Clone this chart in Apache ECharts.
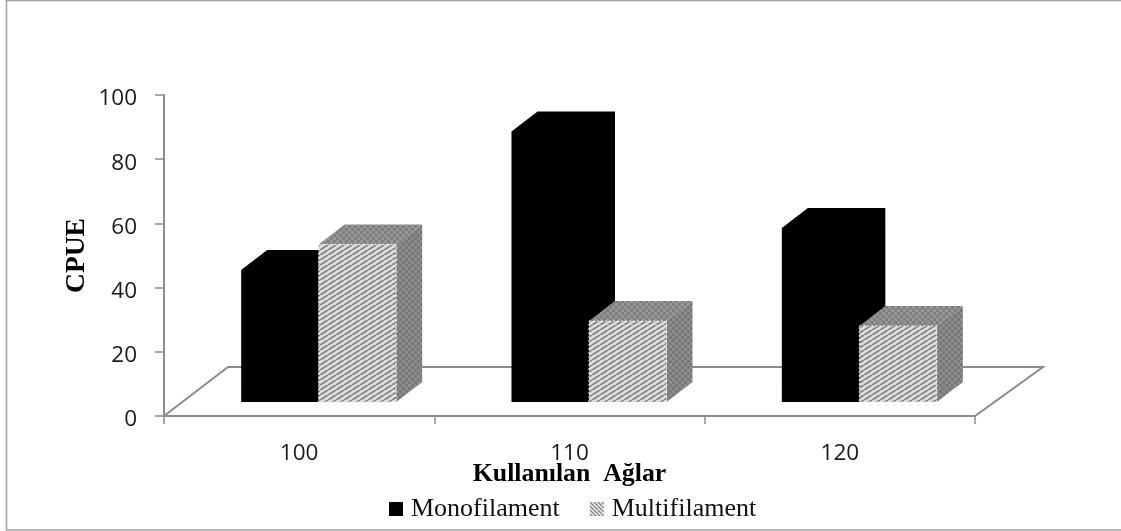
<!DOCTYPE html>
<html>
<head>
<meta charset="utf-8">
<style>
html, body { margin: 0; padding: 0; background: #fff; }
#chart { width: 1121px; height: 531px; }
</style>
<script src="https://cdn.jsdelivr.net/npm/echarts@6/dist/echarts.min.js"></script>
</head>
<body>
<div id="chart"></div>
<script>
const categories = ['100', '110', '120']
const monofilament = [41.1, 84.3, 54.2]
const multifilament = [49.1, 25.2, 23.7]
const yTicks = [0, 20, 40, 60, 80, 100]

// depth of the fake 3d, in px
const DX = 26
const DY = 20
const BASE_LIFT = 14
const SHIFT = 19.5
const BAR_W = 77.5

function hatch (fg, bg, w, h, lw, flip) {
  const c = document.createElement('canvas')
  c.width = w
  c.height = h
  const g = c.getContext('2d')
  g.fillStyle = bg
  g.fillRect(0, 0, w, h)
  g.strokeStyle = fg
  g.lineWidth = lw
  for (let i = -1; i <= 1; i++) {
    g.beginPath()
    g.moveTo(i * w, flip ? 0 : h)
    g.lineTo((i + 1) * w, flip ? h : 0)
    g.stroke()
  }
  return { image: c, repeat: 'repeat' }
}

function dither (a, b) {
  const c = document.createElement('canvas')
  c.width = 6
  c.height = 6
  const g = c.getContext('2d')
  g.fillStyle = a
  g.fillRect(0, 0, 6, 6)
  g.fillStyle = b
  g.fillRect(0, 0, 3, 3)
  g.fillRect(3, 3, 3, 3)
  return { image: c, repeat: 'repeat' }
}

const frontFill = hatch('#868686', '#dedede', 8, 5, 1.9, false)
const legendFill = hatch('#7a7a7a', '#f6f6f6', 4, 4, 1.3, true)
const topFill = dither('#7f7f7f', '#969696')
const sideFill = dither('#787878', '#8c8c8c')

function corners (api, slot) {
  const cat = api.value(0)
  const p = api.coord([cat, api.value(1)])
  const zero = api.coord([cat, 0])
  const x0 = p[0] + SHIFT + slot * BAR_W
  return { x0, x1: x0 + BAR_W, yb: zero[1] - BASE_LIFT, yt: p[1] - BASE_LIFT }
}

// black bars read as one flat shape, so draw the outline only
function solidBox (params, api) {
  const { x0, x1, yb, yt } = corners(api, -1)
  return {
    type: 'polygon',
    shape: {
      points: [[x0, yt], [x0 + DX, yt - DY], [x1 + DX, yt - DY], [x1 + DX, yb - DY], [x1, yb], [x0, yb]]
    },
    style: { fill: '#000' }
  }
}

function hatchedBox (params, api) {
  const { x0, x1, yb, yt } = corners(api, 0)
  return {
    type: 'group',
    children: [
      {
        type: 'polygon',
        shape: { points: [[x0, yt], [x0 + DX, yt - DY], [x1 + DX, yt - DY], [x1, yt]] },
        style: { fill: topFill }
      },
      {
        type: 'polygon',
        shape: { points: [[x1, yt], [x1 + DX, yt - DY], [x1 + DX, yb - DY], [x1, yb]] },
        style: { fill: sideFill }
      },
      {
        type: 'polygon',
        shape: { points: [[x0, yt], [x1, yt], [x1, yb], [x0, yb]] },
        style: { fill: frontFill, stroke: '#f0f0f0', lineWidth: 1, lineDash: [2, 2] }
      }
    ]
  }
}

function floor (params, api) {
  const a = api.coord([0, 0])
  const b = api.coord([2, 0])
  const half = api.size([1, 0])[0] / 2
  const l = a[0] - half
  const r = b[0] + half
  return {
    type: 'polygon',
    shape: { points: [[l, a[1]], [l + 64, a[1] - 49], [r + 68, a[1] - 49], [r, a[1]]] },
    style: { fill: '#fff', stroke: '#8c8c8c', lineWidth: 2 },
    silent: true
  }
}

const axisLine = { show: true, lineStyle: { color: '#8c8c8c', width: 2 } }
const axisTick = { show: true, length: 9, lineStyle: { color: '#8c8c8c', width: 1.5 } }
const numFont = { fontFamily: 'Open Sans', fontSize: 22.5, color: '#1a1a1a' }
const nameFont = { fontFamily: 'Liberation Serif', fontWeight: 'bold', color: '#000' }

const myChart = echarts.init(document.getElementById('chart'))
myChart.setOption({
  backgroundColor: '#fff',
  animation: false,
  graphic: [{
    type: 'rect',
    silent: true,
    z: -1,
    // right edge of the frame falls outside the picture
    shape: { x: 6.5, y: 0.5, width: 1125, height: 529.5 },
    style: { fill: 'none', stroke: '#a0a0a0', lineWidth: 1.5 }
  }],
  grid: { left: 164, right: 146, top: 95, bottom: 115 },
  legend: {
    data: [
      { name: 'Monofilament' },
      { name: 'Multifilament', itemStyle: { color: legendFill } }
    ],
    left: 384,
    top: 491,
    itemWidth: 14,
    itemHeight: 14,
    itemGap: 30,
    icon: 'rect',
    textStyle: { fontFamily: 'Liberation Serif', fontSize: 26, color: '#111', padding: [0, 0, 0, 3] }
  },
  xAxis: {
    type: 'category',
    data: categories,
    axisLine,
    axisTick: { ...axisTick, length: 8 },
    axisLabel: { ...numFont, margin: 26 },
    name: 'Kullanılan  Ağlar',
    nameLocation: 'middle',
    nameGap: 45,
    nameMoveOverlap: false,
    nameTextStyle: { ...nameFont, fontSize: 25.8 }
  },
  yAxis: {
    type: 'value',
    min: yTicks[0],
    max: yTicks[yTicks.length - 1],
    interval: yTicks[1] - yTicks[0],
    splitLine: { show: false },
    axisLine,
    axisTick,
    axisLabel: {
      margin: 27,
      formatter: '{n|{value}}',
      rich: { n: { ...numFont, padding: [8, 0, 0, 0] } }
    },
    name: 'CPUE',
    nameLocation: 'middle',
    nameGap: 73,
    nameMoveOverlap: false,
    nameTextStyle: { ...nameFont, fontSize: 27.5 }
  },
  series: [
    {
      type: 'custom',
      name: 'floor',
      silent: true,
      renderItem: floor,
      data: [[0, 0]],
      z: 1
    },
    {
      type: 'custom',
      name: 'Monofilament',
      itemStyle: { color: '#000' },
      renderItem: solidBox,
      encode: { x: 0, y: 1 },
      data: monofilament.map((v, i) => [i, v]),
      z: 2
    },
    {
      type: 'custom',
      name: 'Multifilament',
      itemStyle: { color: frontFill },
      renderItem: hatchedBox,
      encode: { x: 0, y: 1 },
      data: multifilament.map((v, i) => [i, v]),
      z: 3
    }
  ]
})
</script>
</body>
</html>
